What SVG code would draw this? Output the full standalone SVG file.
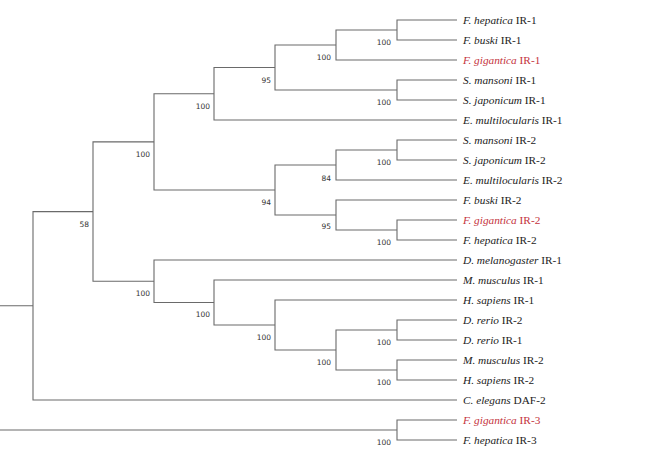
<svg xmlns="http://www.w3.org/2000/svg" width="669" height="454" viewBox="0 0 669 454">
<style>
.br{fill:none;stroke:#6a6a6a;stroke-width:1.1}
.lf{font-family:"Liberation Serif","Times New Roman","DejaVu Serif",serif;font-size:11.3px;fill:#222}
.sp{font-style:italic}
.red{fill:#c4323c}
.bs{font-family:"DejaVu Sans",Verdana,sans-serif;font-size:7.5px;fill:#333;text-anchor:end}
</style>
<rect width="669" height="454" fill="#fff"/>
<g id="connectors">
<path class="br" d="M457 20H397V40H457"/>
<path class="br" d="M397 30H336V60H457"/>
<path class="br" d="M457 80H397V100H457"/>
<path class="br" d="M336 45H275V90H397"/>
<path class="br" d="M275 67.5H214V120H457"/>
<path class="br" d="M457 140H397V160H457"/>
<path class="br" d="M397 150H336V180H457"/>
<path class="br" d="M457 220H397V240H457"/>
<path class="br" d="M457 200H336V230H397"/>
<path class="br" d="M336 165H275V215H336"/>
<path class="br" d="M214 93.75H154V190H275"/>
<path class="br" d="M457 320H397V340H457"/>
<path class="br" d="M457 360H397V380H457"/>
<path class="br" d="M397 330H336V370H397"/>
<path class="br" d="M457 300H275V350H336"/>
<path class="br" d="M457 280H214V325H275"/>
<path class="br" d="M457 260H154V302.5H214"/>
<path class="br" d="M154 141.9H93V281.25H154"/>
<path class="br" d="M93 211.6H33V400H457"/>
<path class="br" d="M0 305.8H33"/>
<path class="br" d="M457 420H397V440H457"/>
<path class="br" d="M0 430H397"/>
</g>
<g id="leaf-fhep-ir1"><text class="lf" x="463" y="24"><tspan class="sp">F. hepatica</tspan> IR-1</text></g>
<g id="leaf-fbus-ir1"><text class="lf" x="463" y="44"><tspan class="sp">F. buski</tspan> IR-1</text></g>
<g id="leaf-fgig-ir1"><text class="lf red" x="463" y="64"><tspan class="sp">F. gigantica</tspan> IR-1</text></g>
<g id="leaf-sman-ir1"><text class="lf" x="463" y="84"><tspan class="sp">S. mansoni</tspan> IR-1</text></g>
<g id="leaf-sjap-ir1"><text class="lf" x="463" y="104"><tspan class="sp">S. japonicum</tspan> IR-1</text></g>
<g id="leaf-emul-ir1"><text class="lf" x="463" y="124"><tspan class="sp">E. multilocularis</tspan> IR-1</text></g>
<g id="leaf-sman-ir2"><text class="lf" x="463" y="144"><tspan class="sp">S. mansoni</tspan> IR-2</text></g>
<g id="leaf-sjap-ir2"><text class="lf" x="463" y="164"><tspan class="sp">S. japonicum</tspan> IR-2</text></g>
<g id="leaf-emul-ir2"><text class="lf" x="463" y="184"><tspan class="sp">E. multilocularis</tspan> IR-2</text></g>
<g id="leaf-fbus-ir2"><text class="lf" x="463" y="204"><tspan class="sp">F. buski</tspan> IR-2</text></g>
<g id="leaf-fgig-ir2"><text class="lf red" x="463" y="224"><tspan class="sp">F. gigantica</tspan> IR-2</text></g>
<g id="leaf-fhep-ir2"><text class="lf" x="463" y="244"><tspan class="sp">F. hepatica</tspan> IR-2</text></g>
<g id="leaf-dmel-ir1"><text class="lf" x="463" y="264"><tspan class="sp">D. melanogaster</tspan> IR-1</text></g>
<g id="leaf-mmus-ir1"><text class="lf" x="463" y="284"><tspan class="sp">M. musculus</tspan> IR-1</text></g>
<g id="leaf-hsap-ir1"><text class="lf" x="463" y="304"><tspan class="sp">H. sapiens</tspan> IR-1</text></g>
<g id="leaf-drer-ir2"><text class="lf" x="463" y="324"><tspan class="sp">D. rerio</tspan> IR-2</text></g>
<g id="leaf-drer-ir1"><text class="lf" x="463" y="344"><tspan class="sp">D. rerio</tspan> IR-1</text></g>
<g id="leaf-mmus-ir2"><text class="lf" x="463" y="364"><tspan class="sp">M. musculus</tspan> IR-2</text></g>
<g id="leaf-hsap-ir2"><text class="lf" x="463" y="384"><tspan class="sp">H. sapiens</tspan> IR-2</text></g>
<g id="leaf-cele-daf2"><text class="lf" x="463" y="404"><tspan class="sp">C. elegans</tspan> DAF-2</text></g>
<g id="leaf-fgig-ir3"><text class="lf red" x="463" y="424"><tspan class="sp">F. gigantica</tspan> IR-3</text></g>
<g id="leaf-fhep-ir3"><text class="lf" x="463" y="444"><tspan class="sp">F. hepatica</tspan> IR-3</text></g>
<g id="node-a"><text class="bs" x="391" y="45">100</text></g>
<g id="node-b"><text class="bs" x="331" y="60">100</text></g>
<g id="node-c"><text class="bs" x="391" y="105">100</text></g>
<g id="node-d"><text class="bs" x="271" y="82.5">95</text></g>
<g id="node-e"><text class="bs" x="210" y="108.5">100</text></g>
<g id="node-f"><text class="bs" x="391" y="165">100</text></g>
<g id="node-g"><text class="bs" x="331" y="180.5">84</text></g>
<g id="node-h"><text class="bs" x="391" y="245">100</text></g>
<g id="node-i"><text class="bs" x="331" y="228.5">95</text></g>
<g id="node-j"><text class="bs" x="271" y="204.5">94</text></g>
<g id="node-k"><text class="bs" x="150" y="156.5">100</text></g>
<g id="node-l"><text class="bs" x="391" y="345">100</text></g>
<g id="node-m"><text class="bs" x="391" y="385">100</text></g>
<g id="node-n"><text class="bs" x="331" y="365">100</text></g>
<g id="node-o"><text class="bs" x="271" y="340">100</text></g>
<g id="node-p"><text class="bs" x="210" y="317">100</text></g>
<g id="node-q"><text class="bs" x="150" y="296">100</text></g>
<g id="node-r"><text class="bs" x="89" y="226.5">58</text></g>
<g id="node-t"><text class="bs" x="391" y="445">100</text></g>
</svg>
